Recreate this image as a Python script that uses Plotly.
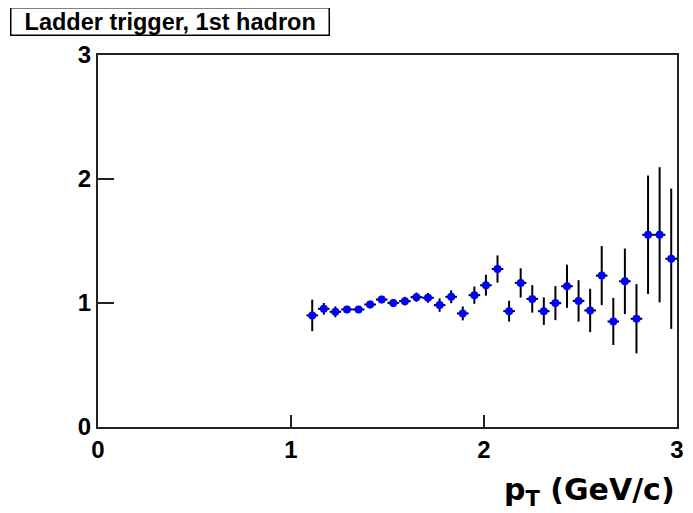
import plotly.graph_objects as go

pt = [1.11, 1.17, 1.23, 1.29, 1.35, 1.41, 1.47, 1.53, 1.59, 1.65, 1.71, 1.77, 1.83, 1.89, 1.95, 2.01,
      2.07, 2.13, 2.19, 2.25, 2.31, 2.37, 2.43, 2.49, 2.55, 2.61, 2.67, 2.73, 2.79, 2.85, 2.91, 2.97]
ratio = [0.90, 0.953, 0.929, 0.948, 0.948, 0.988, 1.028, 1.001, 1.015, 1.047, 1.042, 0.983, 1.05, 0.916, 1.063, 1.143,
         1.274, 0.934, 1.162, 1.033, 0.934, 0.999, 1.135, 1.017, 0.94, 1.221, 0.851, 1.175, 0.873, 1.55, 1.55, 1.357]
ratio_err = [0.127, 0.047, 0.044, 0.02, 0.02, 0.03, 0.03, 0.03, 0.035, 0.037, 0.04, 0.054, 0.052, 0.056, 0.07, 0.084,
             0.11, 0.084, 0.118, 0.111, 0.111, 0.137, 0.174, 0.167, 0.175, 0.238, 0.19, 0.264, 0.279, 0.478, 0.545, 0.566]
pt_halfwidth = [0.03] * len(pt)

x_ticks = [0, 1, 2, 3]
y_ticks = [0, 1, 2, 3]
title_text = "Ladder trigger, 1st hadron"

fig = go.Figure()
fig.add_trace(go.Scatter(
    x=pt, y=ratio, mode="markers",
    marker=dict(color="#0000ff", size=8, symbol="circle"),
    error_y=dict(type="data", array=ratio_err, color="black", thickness=2, width=0),
    error_x=dict(type="data", array=pt_halfwidth, color="black", thickness=2, width=0),
    showlegend=False,
))

FONT = "Liberation Sans, Arial, sans-serif"
axis_font = dict(family=FONT, size=24, color="black")
# page body has an 8px margin, so the figure is sized to fit inside the 693x513 window
fig.update_layout(
    width=685, height=505,
    margin=dict(l=90, r=9, t=47, b=86),
    paper_bgcolor="white", plot_bgcolor="white",
    font=dict(family=FONT, color="black"),
    xaxis=dict(range=[0, 3], tickvals=x_ticks, ticktext=[f"<b>{v}</b>" for v in x_ticks],
               ticks="inside", ticklen=12, tickwidth=1.5, tickcolor="#222",
               showline=True, linecolor="#222", linewidth=2, mirror=True,
               showgrid=False, zeroline=False, tickfont=axis_font),
    yaxis=dict(range=[0, 3], tickvals=y_ticks, ticktext=[f"<b>{v}</b>" for v in y_ticks],
               ticks="inside", ticklen=16, tickwidth=1.5, tickcolor="#222",
               showline=True, linecolor="#222", linewidth=2, mirror=True,
               showgrid=False, zeroline=False, tickfont=axis_font),
)

fig.add_annotation(
    xref="paper", yref="paper", x=1.0, y=-0.115, xanchor="right", yanchor="top",
    text="<b>p<sub>T</sub> (GeV/c)</b>", showarrow=False,
    font=dict(family="DejaVu Sans, sans-serif", size=30, color="black"),
)
fig.add_annotation(
    xref="paper", yref="paper", x=-0.152, y=1.13, xanchor="left", yanchor="top",
    text=f"<b>&nbsp;&nbsp;{title_text}&nbsp;&nbsp;</b>", showarrow=False,
    bordercolor="black", borderwidth=1.5, bgcolor="white", borderpad=0,
    font=dict(family=FONT, size=23.5, color="black"),
)

fig.write_html("out.html")
